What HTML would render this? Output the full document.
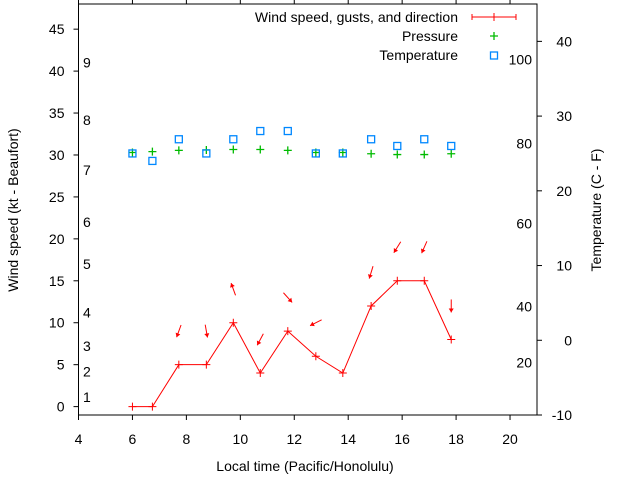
<!DOCTYPE html>
<html><head><meta charset="utf-8"><style>
body{margin:0;background:#fff}
svg{display:block;font-family:"Liberation Sans",sans-serif}
</style></head><body>
<svg id="c" width="640" height="480" xmlns="http://www.w3.org/2000/svg"></svg>
<script>
const times=[6,6.74,7.72,8.74,9.74,10.74,11.76,12.8,13.8,14.85,15.82,16.82,17.82];
const windSpeed=[0,0,5,5,10,4,9,6,4,12,15,15,8];
const gusts=[null,null,9,9,14,8,13,10,null,16,19,19,12];
const windFrom=[null,null,20,350,160,28,318,63,null,17,32,24,0];
const pressure=[30.3,30.4,30.55,30.6,30.65,30.65,30.55,30.3,30.3,30.15,30.05,30.05,30.15];
const temperature=[25,24,26.9,25,26.9,28,28,25,25,26.9,26,26.9,26];
const xTicks=[4,6,8,10,12,14,16,18,20];
const yTicks=[0,5,10,15,20,25,30,35,40,45];
const y2Ticks=[-10,0,10,20,30,40];
const beaufortLabels=[["1",1.15],["2",4.2],["3",7.2],["4",11.2],["5",17],["6",22],["7",28.2],["8",34.2],["9",41]];
const fahrenheitLabels=[["20",-3],["40",4.5],["60",15.6],["80",26.3],["100",37.6]];

const L=78.5,R=537,T=4,B=415;
const X=v=>L+(v-4)/(21-4)*(R-L);
const Y=v=>B-(v+1)/(48+1)*(B-T);
const Y2=v=>B-(v+10)/(45+10)*(B-T);
const svg=document.getElementById('c');
const NS='http://www.w3.org/2000/svg';
function mk(tag,attrs,parent){const e=document.createElementNS(NS,tag);for(const k in attrs)e.setAttribute(k,attrs[k]);(parent||svg).appendChild(e);return e;}
function txt(x,y,s,anchor,extra){const t=mk('text',Object.assign({x:x,y:y,'font-size':'14','text-anchor':anchor||'middle',fill:'#000'},extra||{}));t.textContent=s;return t;}

const frame=mk('rect',{x:L,y:T,width:R-L,height:B-T,fill:'none',stroke:'#000','stroke-width':1});


xTicks.forEach(v=>{
  mk('line',{x1:X(v),x2:X(v),y1:B,y2:B+5,stroke:'#000'});
  mk('line',{x1:X(v),x2:X(v),y1:T,y2:T-5,stroke:'#000'});
  const t=txt(X(v),444,String(v));
  
  
});
yTicks.forEach(v=>{
  mk('line',{x1:L-5,x2:L,y1:Y(v),y2:Y(v),stroke:'#000'});
  const t=txt(L-14,Y(v)+5,String(v),'end');
  
  
});
y2Ticks.forEach(v=>{
  mk('line',{x1:R,x2:R+5,y1:Y2(v),y2:Y2(v),stroke:'#000'});
  const t=txt(572,Y2(v)+5,String(v),'end');
  
  
});
beaufortLabels.forEach(b=>{
  const t=txt(83,Y(b[1])+5,b[0],'start');
  
  
});
fahrenheitLabels.forEach(f=>{
  const t=txt(532,Y2(f[1])+5,f[0],'end');
  
  
});
let t=txt(305,471,'Local time (Pacific/Honolulu)');


t=txt(0,0,'Wind speed (kt - Beaufort)','middle',{transform:'translate(18,210) rotate(-90)'});


t=txt(0,0,'Temperature (C - F)','middle',{transform:'translate(601,210) rotate(-90)'});



const pts=times.map((tt,i)=>X(tt)+','+Y(windSpeed[i])).join(' ');
const pl=mk('polyline',{points:pts,fill:'none',stroke:'#f00','stroke-width':1});


times.forEach((tt,i)=>{
  const x=X(tt),y=Y(windSpeed[i]);
  const p=mk('path',{d:`M${x-4},${y}H${x+4}M${x},${y-4}V${y+4}`,stroke:'#f00','stroke-width':1});
  
  
  if(gusts[i]!==null){
    const b=(windFrom[i]+180)*Math.PI/180;
    const dx=Math.sin(b),dy=-Math.cos(b),len=13;
    const cx=x,cy=Y(gusts[i]);
    const x1=cx-dx*len/2,y1=cy-dy*len/2,x2=cx+dx*len/2,y2=cy+dy*len/2;
    const px=-dy,py=dx;
    const a=mk('g',{});
    
    
    mk('line',{x1:x1,y1:y1,x2:x2,y2:y2,stroke:'#f00','stroke-width':1},a);
    mk('polygon',{points:`${x2},${y2} ${x2-dx*4+px*2.5},${y2-dy*4+py*2.5} ${x2-dx*4-px*2.5},${y2-dy*4-py*2.5}`,fill:'#f00'},a);
  }
});
times.forEach((tt,i)=>{
  const x=X(tt),y=Y(pressure[i]);
  const p=mk('path',{d:`M${x-4},${y}H${x+4}M${x},${y-4}V${y+4}`,stroke:'#0b0','stroke-width':1.3});
  
  
});
times.forEach((tt,i)=>{
  const x=X(tt),y=Y2(temperature[i]);
  const r=mk('rect',{x:x-3.5,y:y-3.5,width:7,height:7,fill:'none',stroke:'#08f','stroke-width':1.3});
  
  
});
const lg=mk('g',{});


t=txt(458,22,'Wind speed, gusts, and direction','end');lg.appendChild(t);
mk('path',{d:'M472,17H516M472,14V20M494,13V21M516,14V20',stroke:'#f00'},lg);
t=txt(458,41,'Pressure','end');lg.appendChild(t);
mk('path',{d:'M490,36H498M494,32V40',stroke:'#0b0','stroke-width':1.3},lg);
t=txt(458,60,'Temperature','end');lg.appendChild(t);
mk('rect',{x:490.5,y:52,width:7,height:7,fill:'none',stroke:'#08f','stroke-width':1.3},lg);
</script>
</body></html>
